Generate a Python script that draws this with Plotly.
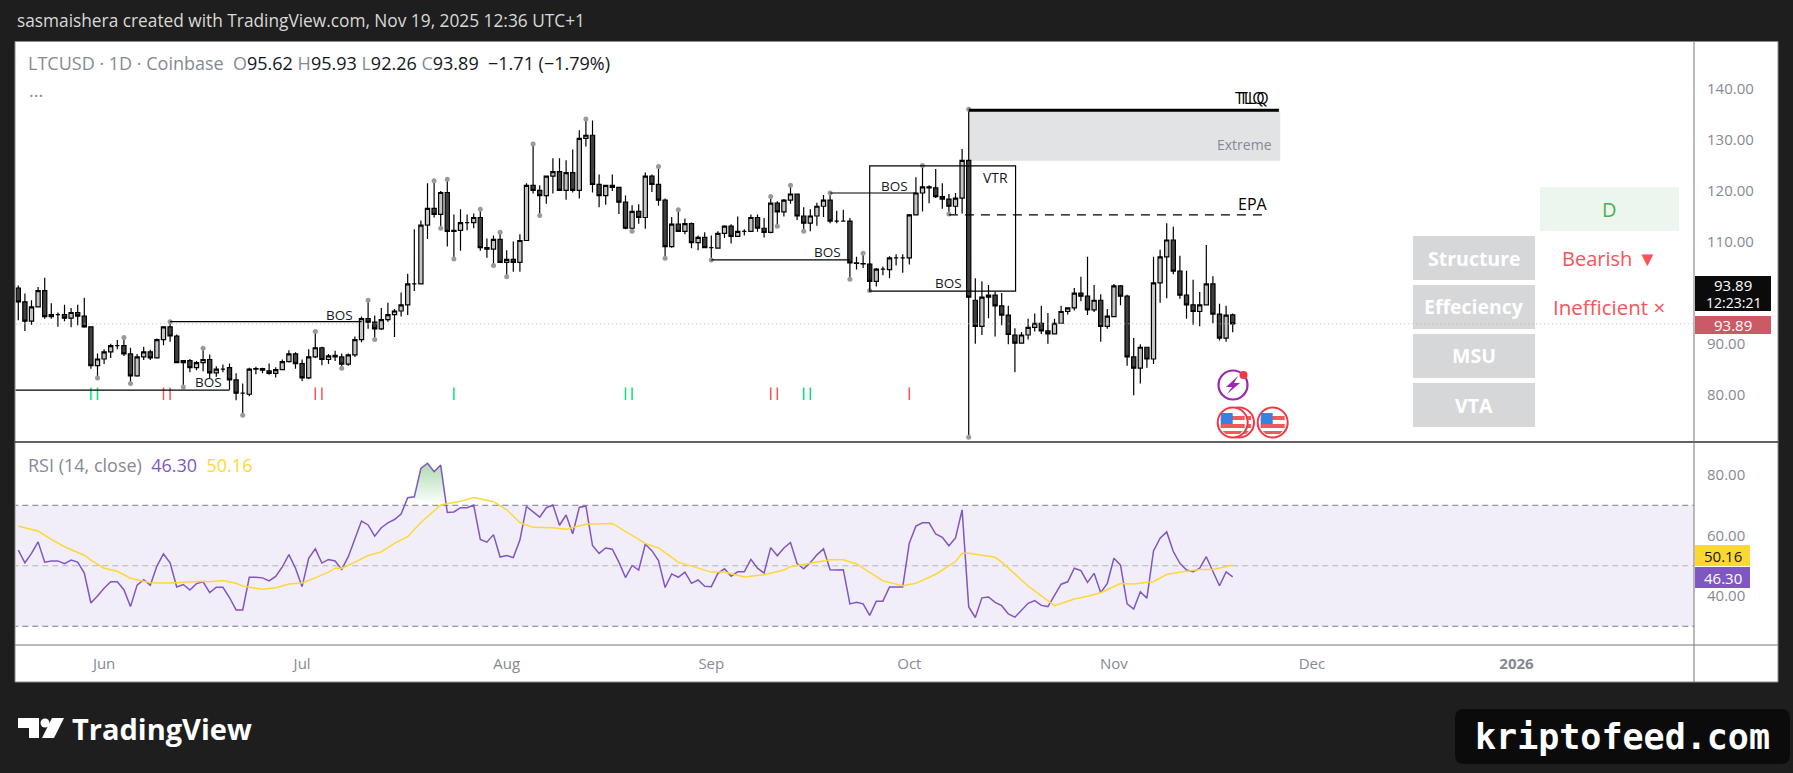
import pandas as pd
import plotly.graph_objects as go
from plotly.subplots import make_subplots

W, H = 1793, 773
FONT = "Open Sans"

opens = [
    100.9, 98.2, 94.4, 97.2, 100.4, 95.3, 95.7, 95.7, 95.0, 96.1, 95.4, 93.3, 85.7, 87.0, 88.4, 89.6, 89.6, 88.0, 83.7, 87.4,
    88.4, 87.2, 90.8, 93.3, 91.5, 86.3, 86.7, 85.3, 86.3, 86.9, 84.3, 85.0, 85.3, 82.9, 80.3, 80.1, 85.0, 85.1, 84.7, 84.2,
    84.9, 86.5, 88.0, 86.1, 83.3, 87.4, 89.2, 86.9, 87.7, 87.4, 86.0, 87.8, 90.8, 94.9, 94.2, 92.9, 94.7, 95.7, 96.4, 97.6,
    101.7, 101.7, 113.2, 116.5, 115.3, 119.6, 112.0, 112.2, 113.7, 113.7, 114.7, 108.8, 108.5, 110.4, 105.9, 106.5, 105.9, 110.2, 121.0, 120.0,
    119.0, 122.8, 123.7, 120.0, 123.5, 120.0, 130.2, 130.8, 121.2, 119.0, 121.0, 120.6, 117.7, 112.6, 115.9, 114.7, 122.8, 121.2, 118.1, 109.0,
    113.4, 112.0, 113.5, 109.8, 110.8, 108.8, 108.7, 111.6, 113.0, 111.0, 112.0, 112.0, 114.7, 112.6, 111.8, 117.5, 115.8, 118.1, 119.3, 115.0,
    113.6, 115.0, 116.9, 118.1, 114.0, 114.0, 114.0, 105.8, 105.7, 105.6, 102.2, 104.6, 104.5, 106.8, 106.8, 106.8, 115.2, 119.5, 120.7, 120.5,
    118.8, 118.3, 116.9, 118.5, 125.9, 98.5, 93.4, 99.1, 99.5, 97.4, 95.6, 91.7, 90.1, 91.7, 93.2, 94.0, 92.5, 91.9, 94.0, 96.3,
    97.0, 99.9, 99.3, 96.6, 98.5, 93.4, 95.3, 101.3, 99.3, 87.4, 85.2, 89.3, 87.0, 101.9, 107.0, 110.3, 104.2, 99.5, 97.6, 96.3,
    97.6, 101.7, 95.8, 91.1, 95.62,
]
highs = [
    101.4, 99.8, 98.5, 101.1, 102.9, 97.9, 96.1, 97.6, 97.0, 97.6, 99.0, 93.4, 88.1, 88.9, 90.0, 90.7, 91.2, 89.2, 88.0, 89.4,
    88.8, 91.0, 93.4, 94.3, 91.8, 86.8, 87.0, 86.6, 89.1, 87.9, 85.6, 85.9, 86.1, 84.2, 82.2, 85.3, 85.5, 85.3, 86.1, 85.4,
    86.9, 88.7, 88.3, 86.9, 88.9, 92.4, 89.4, 88.0, 88.6, 88.1, 88.1, 91.4, 95.3, 98.5, 95.5, 97.0, 98.0, 96.8, 100.0, 103.7,
    112.4, 114.1, 121.4, 121.9, 119.9, 122.2, 115.3, 116.3, 115.3, 115.5, 116.3, 110.6, 111.2, 111.8, 108.3, 110.0, 111.4, 121.4, 129.1, 121.0,
    122.9, 126.3, 126.3, 125.9, 128.0, 131.8, 134.0, 133.7, 123.1, 121.0, 123.1, 120.7, 119.0, 117.1, 117.3, 123.5, 123.1, 124.7, 118.4, 114.8,
    116.2, 114.5, 113.7, 111.2, 111.8, 111.2, 112.0, 113.2, 113.4, 114.9, 112.4, 115.3, 115.3, 114.6, 118.8, 117.9, 118.3, 121.0, 119.3, 116.7,
    116.3, 117.6, 119.1, 119.5, 116.0, 116.2, 114.6, 107.0, 107.7, 105.8, 104.8, 105.1, 107.1, 107.5, 107.5, 115.4, 122.6, 124.9, 121.0, 124.2,
    121.4, 119.3, 119.5, 128.1, 135.9, 102.8, 102.2, 101.5, 100.2, 99.9, 97.4, 93.0, 92.3, 94.9, 95.9, 97.4, 96.0, 94.9, 97.4, 97.1,
    100.9, 103.1, 107.0, 101.5, 99.7, 96.8, 101.7, 101.5, 99.6, 91.1, 89.9, 89.3, 107.0, 108.4, 113.6, 112.9, 107.2, 104.3, 102.5, 100.1,
    109.3, 103.2, 97.8, 97.4, 95.93,
]
lows = [
    94.6, 92.5, 93.7, 97.2, 94.9, 94.9, 93.3, 94.4, 93.2, 93.6, 93.1, 85.1, 83.3, 86.0, 87.2, 88.9, 87.6, 82.2, 83.5, 86.8,
    86.8, 87.1, 89.7, 90.4, 86.3, 81.5, 84.4, 84.8, 84.6, 83.3, 83.5, 84.4, 81.0, 78.9, 76.0, 79.7, 84.0, 84.2, 83.9, 83.4,
    84.8, 86.3, 85.1, 82.7, 83.1, 87.2, 85.8, 86.0, 86.6, 85.2, 85.7, 87.4, 90.3, 92.9, 90.8, 92.7, 94.3, 91.3, 95.3, 95.6,
    100.3, 101.7, 110.5, 114.7, 112.6, 109.0, 106.6, 108.2, 112.2, 112.6, 108.2, 106.8, 105.3, 105.8, 103.1, 104.1, 104.1, 110.2, 119.4, 115.1,
    117.4, 119.4, 120.0, 118.2, 119.6, 118.4, 128.6, 119.6, 116.7, 117.2, 119.9, 115.4, 112.4, 112.0, 113.5, 112.5, 119.7, 117.0, 106.7, 108.8,
    112.0, 111.4, 108.7, 108.3, 108.8, 106.4, 108.7, 110.7, 109.6, 110.9, 111.2, 112.0, 111.9, 110.8, 111.6, 113.0, 114.9, 117.4, 114.2, 112.0,
    112.0, 113.1, 114.8, 113.6, 113.6, 114.0, 102.6, 104.5, 104.8, 100.4, 101.2, 103.4, 102.8, 105.3, 103.9, 105.5, 115.2, 115.9, 117.5, 118.5,
    116.4, 115.4, 115.4, 115.5, 71.7, 90.0, 91.7, 95.0, 91.4, 93.6, 89.9, 84.4, 90.0, 90.8, 92.4, 91.9, 90.0, 91.8, 94.0, 95.7,
    96.5, 98.3, 95.6, 96.2, 90.4, 92.9, 95.2, 97.5, 85.7, 79.9, 82.2, 85.3, 86.0, 98.0, 98.9, 103.6, 98.8, 94.9, 93.7, 93.4,
    97.5, 94.0, 90.6, 90.4, 92.26,
]
closes = [
    98.2, 94.4, 97.2, 100.4, 95.3, 95.7, 95.7, 95.0, 96.1, 95.4, 93.3, 85.7, 87.0, 88.4, 89.6, 89.6, 88.0, 83.7, 87.4, 88.4,
    87.2, 90.8, 93.3, 91.5, 86.3, 86.7, 85.3, 86.3, 86.9, 84.3, 85.0, 85.0, 82.9, 80.3, 80.3, 85.0, 85.1, 84.8, 84.2, 84.9,
    86.5, 88.0, 86.1, 83.3, 87.4, 89.2, 86.9, 87.6, 87.4, 86.0, 87.8, 90.8, 94.9, 94.2, 92.9, 94.7, 95.7, 96.4, 97.6, 101.7,
    101.7, 113.2, 116.5, 115.3, 119.6, 112.0, 112.2, 113.7, 113.7, 114.7, 108.8, 108.5, 110.4, 105.9, 106.5, 105.9, 110.2, 121.0, 120.0, 119.0,
    122.8, 123.7, 120.0, 123.5, 120.0, 130.2, 130.8, 121.2, 119.0, 121.0, 120.6, 117.7, 112.6, 115.9, 114.7, 122.8, 121.2, 118.1, 109.0, 113.4,
    112.0, 113.5, 109.8, 110.8, 108.8, 108.8, 111.6, 113.0, 111.0, 112.0, 112.0, 114.7, 112.6, 111.8, 117.5, 115.8, 118.1, 119.3, 115.0, 113.6,
    115.0, 116.9, 118.1, 114.0, 114.0, 114.0, 105.8, 105.7, 105.6, 102.2, 104.6, 104.6, 106.8, 106.8, 106.8, 115.2, 119.5, 120.7, 120.5, 118.8,
    118.3, 116.9, 118.5, 125.9, 99.1, 93.4, 99.1, 99.5, 97.4, 95.6, 91.8, 90.1, 91.7, 93.2, 94.0, 92.5, 91.9, 94.0, 96.3, 97.0,
    99.9, 99.3, 96.6, 98.5, 93.4, 95.4, 101.3, 99.3, 87.4, 85.2, 89.3, 87.0, 101.9, 107.0, 110.3, 104.2, 99.5, 97.6, 96.3, 97.6,
    101.7, 95.8, 91.1, 95.6, 93.89,
]

rsi_values = [
    55.2, 51.0, 54.1, 57.9, 51.2, 51.6, 51.6, 50.7, 51.9, 51.2, 47.6, 37.7, 40.0, 42.6, 44.7, 44.7, 42.1, 36.5, 43.6, 45.4,
    43.6, 49.9, 53.9, 51.0, 43.0, 43.8, 42.0, 44.1, 44.7, 41.1, 42.9, 42.9, 39.5, 35.4, 35.4, 46.2, 46.2, 46.0, 45.0, 46.5,
    49.6, 53.7, 49.2, 43.1, 52.5, 55.6, 50.9, 52.1, 51.6, 48.8, 53.0, 59.1, 64.8, 63.5, 59.8, 62.6, 64.2, 65.3, 67.1, 72.5,
    72.8, 82.2, 83.9, 81.1, 83.3, 67.6, 67.8, 69.2, 69.2, 70.1, 58.7, 57.8, 60.3, 52.9, 53.4, 52.7, 58.5, 69.6, 67.9, 66.1,
    69.2, 70.1, 63.4, 66.8, 60.6, 69.3, 69.8, 56.7, 54.1, 55.9, 55.5, 51.2, 46.1, 50.1, 48.6, 57.1, 55.0, 51.7, 42.8, 47.3,
    46.2, 47.9, 44.2, 45.3, 43.2, 43.1, 47.5, 49.0, 46.5, 48.0, 48.0, 52.1, 49.2, 47.6, 56.0, 53.3, 55.9, 57.7, 50.7, 49.0,
    51.0, 53.6, 55.6, 48.7, 48.6, 48.7, 37.4, 37.9, 37.4, 33.6, 38.3, 38.3, 43.0, 43.0, 43.0, 57.5, 63.1, 64.2, 64.2, 60.5,
    59.4, 56.6, 59.2, 68.5, 36.4, 32.9, 39.4, 39.7, 37.9, 36.8, 34.1, 33.0, 35.4, 37.6, 38.5, 36.9, 36.5, 40.4, 43.9, 44.7,
    49.2, 48.4, 44.5, 47.5, 41.1, 44.2, 52.5, 50.2, 37.4, 35.7, 41.4, 39.3, 54.9, 59.1, 61.2, 54.7, 50.8, 48.6, 48.0, 49.2,
    53.0, 48.1, 43.4, 48.0, 46.30,
]
# RSI average read at its bends, by candle number
ma_days = [
    0, 1, 3, 5, 7, 9, 10, 11, 13, 15, 17, 19, 20, 23, 24, 25, 28, 29, 31, 33, 34, 37, 39, 41, 43, 45, 47, 48, 49, 51, 53, 55, 57, 59, 61, 64,
    67, 69, 72, 74, 76, 78, 81, 83, 86, 90, 95, 97, 100, 105, 107, 110, 113, 116, 117, 120, 123, 125, 127, 131, 134, 136, 138, 139, 140, 142,
    143, 144, 148, 149, 153, 157, 160, 162, 164, 167, 169, 172, 174, 176, 179, 181, 184,
]
ma_values = [
    63.1, 62.5, 61.5, 58.7, 56.3, 54.4, 53.5, 51.9, 49.2, 48.2, 45.9, 44.9, 44.4, 44.3, 44.4, 44.7, 44.9, 44.7, 45.1, 44.2, 43.3, 42.2, 42.7, 44.0, 44.3, 46.0, 47.9, 49.2, 49.2, 51.2, 53.4, 54.6, 57.4, 59.6, 64.3, 70.1,
    71.3, 72.6, 71.2, 68.5, 64.3, 62.7, 62.6, 62.1, 63.7, 64.0, 57.4, 55.9, 51.2, 47.9, 47.9, 46.3, 47.0, 48.6, 49.7, 50.8, 52.0, 52.0, 50.6, 45.0, 43.4, 44.2, 46.3, 47.2, 48.6, 51.4,
    54.1, 54.1, 52.8, 51.2, 43.3, 36.8, 39.0, 39.9, 41.1, 44.1, 44.0, 44.8, 47.1, 47.9, 48.8, 48.8, 50.16,
]

pivot_days = [
    12, 16, 17, 23, 25, 28, 34, 45, 49, 53, 54, 63, 64, 65, 66, 70, 72, 73, 74, 78, 79, 86, 93, 97, 98, 100, 105,
    114, 115, 117, 119, 123, 126, 128, 129, 137, 141, 144, 144,
]
pivot_prices = [
    83.3, 91.2, 82.2, 94.3, 81.5, 89.1, 76.0, 92.4, 85.2, 98.5, 90.8, 121.9, 112.6, 122.2, 106.6, 116.3, 105.3, 111.8, 103.1, 129.1, 115.1, 134.0, 112.0, 124.7, 106.7, 116.2, 106.4,
    118.8, 113.0, 121.0, 112.0, 119.5, 102.6, 107.7, 100.4, 124.9, 115.4, 135.9, 71.7,
]
green_days = [11, 12, 66, 92, 93, 119, 120]
red_days = [22, 23, 45, 46, 114, 115, 135]
signal_level = 80.2

price_ticks = [80, 90, 100, 110, 120, 130, 140]
rsi_ticks = [40, 60, 80]
month_dates = ["2025-06-01", "2025-07-01", "2025-08-01", "2025-09-01", "2025-10-01", "2025-11-01", "2025-12-01", "2026-01-01"]
month_labels = ["Jun", "Jul", "Aug", "Sep", "Oct", "Nov", "Dec", "<b>2026</b>"]

# structure lines: start candle, end candle, price
bos_lines = [(-3, 32, 80.9), (23, 52, 94.3), (105, 126, 106.4), (123, 136, 119.5)]
# BOS labels: candle, price
bos_labels = [(28.8, 82.5), (48.6, 95.7), (122.6, 108.0), (132.7, 120.9), (140.9, 101.9)]
vtr_box = (129, 151.1, 100.3, 124.8)
epa_line = (141, 189.5, 115.2)
tlq_line = (144, 191, 135.7)
extreme_zone = (144, 191.2, 125.8, 135.7)

start = pd.Timestamp("2025-05-19")
dates = pd.date_range(start, periods=len(closes))


def day(i):
    return start + pd.Timedelta(days=i)


def px(x):
    return x / W


def py(y):
    return 1 - y / H


fig = make_subplots(rows=2, cols=1, shared_xaxes=True, vertical_spacing=0)

fig.add_trace(
    go.Candlestick(
        x=dates,
        open=opens,
        high=highs,
        low=lows,
        close=closes,
        increasing=dict(line=dict(color="#000000", width=1.2), fillcolor="#c2c3c7"),
        decreasing=dict(line=dict(color="#000000", width=1.2), fillcolor="#404040"),
        whiskerwidth=0,
    ),
    row=1,
    col=1,
)
fig.add_trace(
    go.Scatter(
        x=[day(i) for i in pivot_days],
        y=pivot_prices,
        mode="markers",
        marker=dict(size=5, color="#9a9a9a"),
    ),
    row=1,
    col=1,
)
fig.add_trace(
    go.Scatter(
        x=[day(i) for i in green_days],
        y=[signal_level] * len(green_days),
        mode="markers",
        marker=dict(symbol="line-ns", size=9, line=dict(color="#00e676", width=1.5)),
    ),
    row=1,
    col=1,
)
fig.add_trace(
    go.Scatter(
        x=[day(i) for i in red_days],
        y=[signal_level] * len(red_days),
        mode="markers",
        marker=dict(symbol="line-ns", size=9, line=dict(color="#ff5252", width=1.5)),
    ),
    row=1,
    col=1,
)

# overbought part of the RSI, fades out at 70
fig.add_trace(
    go.Scatter(
        x=list(dates[59:65]) + [dates[65]],
        y=rsi_values[59:65] + [70],
        mode="lines",
        line=dict(width=0),
        fill="toself",
        fillgradient=dict(
            type="vertical",
            colorscale=[[0, "rgba(76,175,80,0)"], [1, "rgba(76,175,80,0.45)"]],
        ),
    ),
    row=2,
    col=1,
)
fig.add_trace(
    go.Scatter(x=dates, y=rsi_values, mode="lines", line=dict(color="#7e57c2", width=1.5)),
    row=2,
    col=1,
)
fig.add_trace(
    go.Scatter(
        x=[day(i) for i in ma_days],
        y=ma_values,
        mode="lines",
        line=dict(color="#fdd835", width=1.5),
    ),
    row=2,
    col=1,
)

shapes = []
# white panels behind the chart
shapes.append(dict(type="rect", xref="paper", yref="paper", x0=px(15), x1=px(1778), y0=py(682), y1=py(41.5),
                   fillcolor="#ffffff", line=dict(color="#8a8a8a", width=1), layer="below"))

# RSI band
shapes.append(dict(type="rect", xref="x2", yref="y2", x0=day(-10), x1=day(260), y0=30, y1=70,
                   fillcolor="rgba(126,87,194,0.1)", line=dict(width=0), layer="below"))
for level, colour in [(70, "#787b86"), (30, "#787b86"), (50, "#b4b4bc")]:
    shapes.append(dict(type="line", xref="x2", yref="y2", x0=day(-10), x1=day(260), y0=level, y1=level,
                       line=dict(color=colour, width=1, dash="6px,4px"), layer="below"))

# panel dividers
shapes.append(dict(type="line", xref="paper", yref="paper", x0=px(15), x1=px(1778), y0=py(442), y1=py(442),
                   line=dict(color="#2a2e39", width=1.5)))
shapes.append(dict(type="line", xref="paper", yref="paper", x0=px(15), x1=px(1778), y0=py(645), y1=py(645),
                   line=dict(color="#787878", width=1)))
shapes.append(dict(type="line", xref="paper", yref="paper", x0=px(1694), x1=px(1694), y0=py(682), y1=py(42),
                   line=dict(color="#787878", width=1)))

# zones and structure lines
x0, x1, y0, y1 = extreme_zone
shapes.append(dict(type="rect", xref="x", yref="y", x0=day(x0), x1=day(x1), y0=y0, y1=y1,
                   fillcolor="#e2e3e5", line=dict(width=0), layer="below"))
for a, b, level in bos_lines:
    shapes.append(dict(type="line", xref="x", yref="y", x0=day(a), x1=day(b), y0=level, y1=level,
                       line=dict(color="#000000", width=1.2)))
x0, x1, y0, y1 = vtr_box
shapes.append(dict(type="rect", xref="x", yref="y", x0=day(x0), x1=day(x1), y0=y0, y1=y1,
                   line=dict(color="#000000", width=1.2)))
a, b, level = epa_line
shapes.append(dict(type="line", xref="x", yref="y", x0=day(a), x1=day(b), y0=level, y1=level,
                   line=dict(color="#000000", width=1.2, dash="9px,7px")))
a, b, level = tlq_line
shapes.append(dict(type="line", xref="x", yref="y", x0=day(a), x1=day(b), y0=level, y1=level,
                   line=dict(color="#000000", width=3)))

# status table
for top in [236, 285, 334, 383]:
    shapes.append(dict(type="rect", xref="paper", yref="paper", x0=px(1413), x1=px(1535), y0=py(top + 44), y1=py(top),
                       fillcolor="#d6d7d9", line=dict(width=0)))
shapes.append(dict(type="rect", xref="paper", yref="paper", x0=px(1540), x1=px(1679), y0=py(231), y1=py(187),
                   fillcolor="#edf6ee", line=dict(width=0)))

# last price line
shapes.append(dict(type="line", xref="x", yref="y", x0=day(-10), x1=day(260), y0=closes[-1], y1=closes[-1],
                   line=dict(color="#b4b6be", width=1, dash="1px,3px")))

# price labels on the axis
for top, bottom, colour in [(276, 311, "#0b0b0b"), (316, 334, "#cc5a64")]:
    shapes.append(dict(type="rect", xref="paper", yref="paper", x0=px(1695), x1=px(1771), y0=py(bottom), y1=py(top),
                       fillcolor=colour, line=dict(width=0)))
for top, bottom, colour in [(545, 566, "#fdd835"), (567, 588, "#7e57c2")]:
    shapes.append(dict(type="rect", xref="paper", yref="paper", x0=px(1695), x1=px(1750), y0=py(bottom), y1=py(top),
                       fillcolor=colour, line=dict(width=0)))


def circle(cx, cy, r, **kw):
    return dict(type="circle", xref="paper", yref="paper", x0=px(cx - r), x1=px(cx + r), y0=py(cy + r), y1=py(cy - r), **kw)


def polygon(points, colour):
    path = "M " + " L ".join(f"{px(x):.5f} {py(y):.5f}" for x, y in points) + " Z"
    return dict(type="path", xref="paper", yref="paper", path=path, fillcolor=colour, line=dict(width=0))


def rounded(x0, y0, x1, y1, r, colour):
    p = lambda x, y: f"{px(x):.5f} {py(y):.5f}"
    path = (
        f"M {p(x0 + r, y0)} L {p(x1 - r, y0)} Q {p(x1, y0)} {p(x1, y0 + r)} "
        f"L {p(x1, y1 - r)} Q {p(x1, y1)} {p(x1 - r, y1)} "
        f"L {p(x0 + r, y1)} Q {p(x0, y1)} {p(x0, y1 - r)} "
        f"L {p(x0, y0 + r)} Q {p(x0, y0)} {p(x0 + r, y0)} Z"
    )
    return dict(type="path", xref="paper", yref="paper", path=path, fillcolor=colour, line=dict(width=0))


# event icons
shapes.append(circle(1233, 385, 14.5, fillcolor="#ffffff", line=dict(color="#9c27b0", width=2.2)))
shapes.append(polygon([(1238, 376), (1226, 387), (1232, 387), (1227, 394), (1240, 383), (1234, 383)], "#9c27b0"))
shapes.append(circle(1243.5, 375, 4, fillcolor="#f23645", line=dict(width=0)))
for cx in [1239, 1232.7, 1272.7]:
    shapes.append(circle(cx, 422.5, 15, fillcolor="#ffffff", line=dict(color="#f23645", width=2)))
    shapes.append(polygon([(cx - 11, 416), (cx + 12, 416), (cx + 12, 420), (cx - 12, 420)], "#f25a5a"))
    shapes.append(polygon([(cx - 12, 424), (cx + 12, 424), (cx + 12, 428), (cx - 12, 428)], "#f25a5a"))
    shapes.append(polygon([(cx - 10, 431), (cx + 10, 431), (cx + 7, 434), (cx - 7, 434)], "#f25a5a"))
    shapes.append(polygon([(cx - 12, 413), (cx, 413), (cx, 424), (cx - 12, 424)], "#3d7fe0"))

# TradingView mark and the site badge
shapes.append(polygon([(18, 718), (39, 718), (39, 738), (29, 738), (29, 728), (18, 728)], "#ffffff"))
shapes.append(circle(45, 723, 4.5, fillcolor="#ffffff", line=dict(width=0)))
shapes.append(polygon([(52, 718), (64, 718), (54, 738), (42, 738)], "#ffffff"))
shapes.append(rounded(1455, 709, 1790, 764, 9, "#0b0b0b"))

annotations = []


def note_px(x, y, text, size, colour, anchor="left", family=FONT):
    annotations.append(dict(xref="paper", yref="paper", x=px(x), y=py(y), text=text, showarrow=False,
                            xanchor=anchor, yanchor="middle", align=anchor,
                            font=dict(size=size, color=colour, family=family)))


def note_data(i, price, text, size=13.5, colour="#131722"):
    annotations.append(dict(xref="x", yref="y", x=day(i), y=price, text=text, showarrow=False,
                            font=dict(size=size, color=colour, family=FONT)))


for i, price in bos_labels:
    note_data(i, price, "BOS")
note_data(148.1, 122.5, "VTR", size=14)
note_data(187.1, 117.4, "EPA", size=16, colour="#000000")
note_data(186.6, 138.0, "TLQ", size=16, colour="#000000")
note_data(187.3, 138.0, "TLQ", size=16, colour="#000000")
note_data(185.8, 128.9, "Extreme", size=14, colour="#868993")

note_px(15, 20, "sasmaishera created with TradingView.com, Nov 19, 2025 12:36 UTC+1", 17.3, "#d9d9d9")

gray = "#868993"
legend = (
    f'<span style="color:{gray}">LTCUSD · 1D · Coinbase &nbsp;O</span>95.62 '
    f'<span style="color:{gray}">H</span>95.93 '
    f'<span style="color:{gray}">L</span>92.26 '
    f'<span style="color:{gray}">C</span>93.89 &nbsp;−1.71 (−1.79%)'
)
note_px(26, 63, legend, 18, "#131722")
note_px(27, 90, "...", 18, gray)
rsi_legend = (
    f'<span style="color:{gray}">RSI (14, close)</span> &nbsp;'
    f'<span style="color:#7e57c2">46.30</span> &nbsp;'
    f'<span style="color:#fdd835">50.16</span>'
)
note_px(26, 465, rsi_legend, 18, gray)

for top, label in [(236, "Structure"), (285, "Effeciency"), (334, "MSU"), (383, "VTA")]:
    note_px(1474, top + 22, f"<b>{label}</b>", 19.5, "#ffffff", anchor="center")
note_px(1609.5, 209, "D", 20, "#4caf50", anchor="center")
note_px(1609, 258, "Bearish ▼", 20, "#f9525a", anchor="center")
note_px(1609, 307, "Inefficient ×", 20.5, "#f9525a", anchor="center")

note_px(1733, 285, "93.89", 15, "#ffffff", anchor="center")
note_px(1733, 302, "12:23:21", 14, "#ffffff", anchor="center")
note_px(1733, 325, "93.89", 15, "#ffffff", anchor="center")
note_px(1723, 555.5, "50.16", 15, "#131722", anchor="center")
note_px(1723, 577.5, "46.30", 15, "#ffffff", anchor="center")

note_px(70, 728, "<b>TradingView</b>", 29, "#ffffff")
note_px(1622, 737, "<b>kriptofeed.com</b>", 35, "#ffffff", anchor="center", family="DejaVu Sans Mono")

fig.update_layout(
    width=W,
    height=H,
    margin=dict(l=0, r=0, t=0, b=0),
    autosize=False,
    paper_bgcolor="#1e1e1e",
    plot_bgcolor="#ffffff",
    showlegend=False,
    shapes=shapes,
    annotations=annotations,
    boxgap=0.2,
    boxgroupgap=0.2,
    font=dict(family=FONT, color="#868993", size=15),
)

fig.update_xaxes(
    domain=[px(15.6), px(1694)],
    range=[pd.Timestamp("2025-05-18 14:12"), pd.Timestamp("2026-01-27 21:24")],
    showgrid=False,
    zeroline=False,
    rangeslider=dict(visible=False),
    tickvals=month_dates,
    ticktext=month_labels,
    ticks="",
    ticklabelstandoff=8,
    tickfont=dict(size=15, color="#868993"),
)
fig.update_xaxes(showticklabels=False, row=1, col=1)
fig.update_xaxes(showticklabels=True, row=2, col=1)
fig.update_yaxes(
    side="right",
    showgrid=False,
    zeroline=False,
    ticks="",
    ticklabelstandoff=12,
    tickformat=".2f",
    tickfont=dict(size=15, color="#868993"),
)
fig.update_yaxes(domain=[py(442), py(42)], range=[70.75, 149.06], tickvals=price_ticks, row=1, col=1)
fig.update_yaxes(domain=[py(645), py(443)], range=[23.8, 90.6], tickvals=rsi_ticks, row=2, col=1)

fig.write_html(
    "out.html",
    config={"displayModeBar": False},
    post_script="document.body.style.margin='0';document.body.style.overflow='hidden';",
)
